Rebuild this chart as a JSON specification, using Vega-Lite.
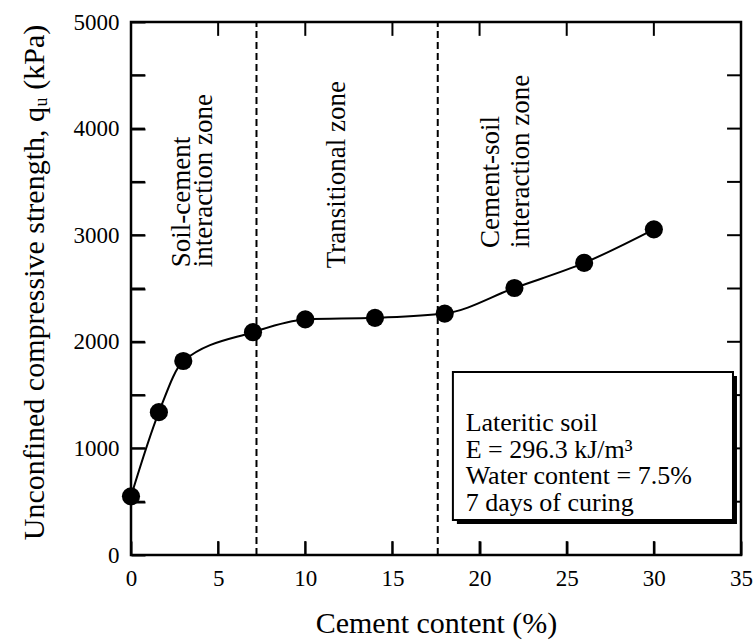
{
  "$schema": "https://vega.github.io/schema/vega-lite/v6.json",
  "width": 610,
  "height": 533,
  "autosize": "none",
  "padding": {"left": 131, "top": 22, "right": 15, "bottom": 88},
  "background": "white",
  "config": {
    "font": "Liberation Serif",
    "view": {"stroke": "black", "strokeWidth": 2.5},
    "axis": {
      "domain": false,
      "grid": false,
      "labelFlush": false,
      "labelColor": "black",
      "titleColor": "black",
      "labelFont": "Liberation Serif",
      "titleFont": "Liberation Serif",
      "labelFontSize": 23,
      "titleFontSize": 30,
      "titleFontWeight": "normal"
    }
  },
  "datasets": {
    "strength": [
      {"cement": 0, "qu": 550},
      {"cement": 1.6, "qu": 1340},
      {"cement": 3, "qu": 1820},
      {"cement": 7, "qu": 2090},
      {"cement": 10, "qu": 2210},
      {"cement": 14, "qu": 2225},
      {"cement": 18, "qu": 2265},
      {"cement": 22, "qu": 2505},
      {"cement": 26, "qu": 2740},
      {"cement": 30, "qu": 3055}
    ],
    "boundaries": [{"cement": 7.2}, {"cement": 17.6}],
    "zones": [
      {"cement": 2.2, "qu": 2700, "label": "Soil-cement\ninteraction zone", "group": "a"},
      {"cement": 11.1, "qu": 2690, "label": "Transitional zone", "group": "a"},
      {"cement": 19.9, "qu": 2880, "label": "Cement-soil\ninteraction zone", "group": "b"}
    ],
    "notes": [
      {"cement": 19.2, "qu": 1163, "label": "Lateritic soil\nE = 296.3 kJ/m³\nWater content = 7.5%\n7 days of curing"}
    ]
  },
  "layer": [
    {
      "data": {"name": "strength"},
      "mark": {"type": "line", "color": "black", "strokeWidth": 2, "interpolate": "monotone"},
      "encoding": {
        "x": {
          "field": "cement", "type": "quantitative",
          "scale": {"domain": [0, 35], "nice": false},
          "axis": {
            "title": "Cement content (%)",
            "values": [0, 5, 10, 15, 20, 25, 30, 35],
            "ticks": true, "tickSize": -14, "tickWidth": 2, "tickColor": "black",
            "zindex": 1,
            "labelPadding": 26, "titlePadding": 18
          }
        },
        "y": {
          "field": "qu", "type": "quantitative",
          "scale": {"domain": [0, 5000], "nice": false},
          "axis": {
            "title": "Unconfined compressive strength, qᵤ (kPa)",
            "values": [0, 500, 1000, 1500, 2000, 2500, 3000, 3500, 4000, 4500, 5000],
            "labelExpr": "datum.value % 1000 === 0 ? datum.value : ''",
            "ticks": true, "tickSize": -14, "tickWidth": 2, "tickColor": "black",
            "zindex": 1,
            "labelPadding": 26,
            "titlePadding": 24,
            "titleY": 260
          }
        }
      }
    },
    {
      "data": {"name": "boundaries"},
      "mark": {"type": "rule", "color": "black", "strokeWidth": 2, "strokeDash": [7, 4]},
      "encoding": {
        "x": {"field": "cement", "type": "quantitative"},
        "y": {"datum": 0, "type": "quantitative"},
        "y2": {"datum": 5000}
      }
    },
    {
      "data": {"values": [
        {"pos": 5, "lo": 0, "hi": 130}, {"pos": 10, "lo": 0, "hi": 130}, {"pos": 15, "lo": 0, "hi": 130},
        {"pos": 20, "lo": 0, "hi": 130}, {"pos": 25, "lo": 0, "hi": 130}, {"pos": 30, "lo": 0, "hi": 130},
        {"pos": 5, "lo": 4870, "hi": 5000}, {"pos": 10, "lo": 4870, "hi": 5000}, {"pos": 15, "lo": 4870, "hi": 5000},
        {"pos": 20, "lo": 4870, "hi": 5000}, {"pos": 25, "lo": 4870, "hi": 5000}, {"pos": 30, "lo": 4870, "hi": 5000}
      ]},
      "mark": {"type": "rule", "color": "black", "strokeWidth": 2},
      "encoding": {
        "x": {"field": "pos", "type": "quantitative"},
        "y": {"field": "lo", "type": "quantitative"},
        "y2": {"field": "hi"}
      }
    },
    {
      "data": {"values": [
        {"pos": 500, "lo": 0, "hi": 0.8}, {"pos": 1000, "lo": 0, "hi": 0.8}, {"pos": 1500, "lo": 0, "hi": 0.8},
        {"pos": 2000, "lo": 0, "hi": 0.8}, {"pos": 2500, "lo": 0, "hi": 0.8}, {"pos": 3000, "lo": 0, "hi": 0.8},
        {"pos": 3500, "lo": 0, "hi": 0.8}, {"pos": 4000, "lo": 0, "hi": 0.8}, {"pos": 4500, "lo": 0, "hi": 0.8},
        {"pos": 500, "lo": 34.2, "hi": 35}, {"pos": 1000, "lo": 34.2, "hi": 35}, {"pos": 1500, "lo": 34.2, "hi": 35},
        {"pos": 2000, "lo": 34.2, "hi": 35}, {"pos": 2500, "lo": 34.2, "hi": 35}, {"pos": 3000, "lo": 34.2, "hi": 35},
        {"pos": 3500, "lo": 34.2, "hi": 35}, {"pos": 4000, "lo": 34.2, "hi": 35}, {"pos": 4500, "lo": 34.2, "hi": 35}
      ]},
      "mark": {"type": "rule", "color": "black", "strokeWidth": 2},
      "encoding": {
        "y": {"field": "pos", "type": "quantitative"},
        "x": {"field": "lo", "type": "quantitative"},
        "x2": {"field": "hi"}
      }
    },
    {
      "data": {"name": "strength"},
      "mark": {"type": "point", "shape": "circle", "filled": true, "color": "black", "opacity": 1, "size": 330},
      "encoding": {
        "x": {"field": "cement", "type": "quantitative"},
        "y": {"field": "qu", "type": "quantitative"}
      }
    },
    {
      "data": {"name": "notes"},
      "mark": {"type": "rect", "color": "black", "xOffset": 4, "x2Offset": 4, "yOffset": 4, "y2Offset": 4},
      "encoding": {
        "x": {"datum": 18.47, "type": "quantitative"},
        "x2": {"datum": 34.54},
        "y": {"datum": 1717, "type": "quantitative"},
        "y2": {"datum": 328}
      }
    },
    {
      "data": {"name": "notes"},
      "mark": {"type": "rect", "fill": "white", "stroke": "black", "strokeWidth": 2},
      "encoding": {
        "x": {"datum": 18.47, "type": "quantitative"},
        "x2": {"datum": 34.54},
        "y": {"datum": 1717, "type": "quantitative"},
        "y2": {"datum": 328}
      }
    },
    {
      "data": {"name": "notes"},
      "mark": {"type": "text", "align": "left", "baseline": "alphabetic", "fontSize": 26, "lineHeight": 26.5, "lineBreak": "\n", "color": "black", "font": "Liberation Serif"},
      "encoding": {
        "x": {"field": "cement", "type": "quantitative"},
        "y": {"field": "qu", "type": "quantitative"},
        "text": {"field": "label"}
      }
    },
    {
      "data": {"name": "zones"},
      "transform": [{"filter": "datum.group === 'a'"}],
      "mark": {"type": "text", "angle": 270, "align": "left", "baseline": "top", "fontSize": 27, "lineHeight": 22, "lineBreak": "\n", "color": "black", "font": "Liberation Serif"},
      "encoding": {
        "x": {"field": "cement", "type": "quantitative"},
        "y": {"field": "qu", "type": "quantitative"},
        "text": {"field": "label"}
      }
    },
    {
      "data": {"name": "zones"},
      "transform": [{"filter": "datum.group === 'b'"}],
      "mark": {"type": "text", "angle": 270, "align": "left", "baseline": "top", "fontSize": 27, "lineHeight": 30, "lineBreak": "\n", "color": "black", "font": "Liberation Serif"},
      "encoding": {
        "x": {"field": "cement", "type": "quantitative"},
        "y": {"field": "qu", "type": "quantitative"},
        "text": {"field": "label"}
      }
    }
  ]
}
